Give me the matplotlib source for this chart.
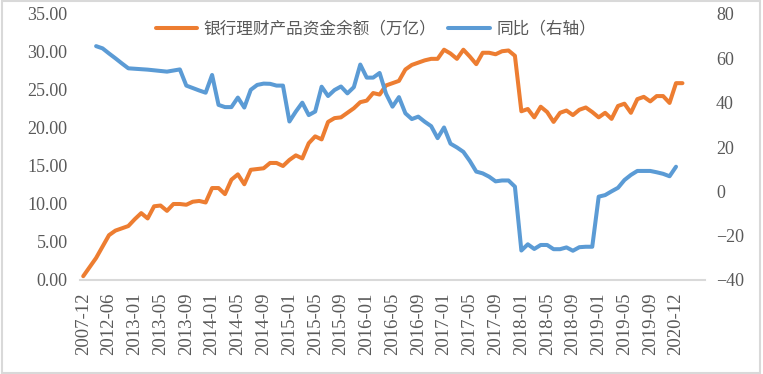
import numpy as np
import matplotlib
matplotlib.use("Agg")
import matplotlib.pyplot as plt
from matplotlib.patches import Rectangle

plt.rcParams['font.family'] = ['Liberation Serif', 'Noto Sans CJK SC']
plt.rcParams['axes.unicode_minus'] = True

# 银行理财产品资金余额（万亿），按类别顺序
balance = [0.5, 1.7, 2.9, 4.4, 5.9, 6.5, 6.8, 7.1, 8.0, 8.8,
           8.1, 9.7, 9.8, 9.1, 10.0, 10.0, 9.9, 10.3, 10.4, 10.2,
           12.1, 12.1, 11.3, 13.2, 13.9, 12.6, 14.5, 14.6, 14.7, 15.4,
           15.4, 15.0, 15.8, 16.4, 16.0, 18.0, 18.9, 18.5, 20.8, 21.3,
           21.4, 22.0, 22.6, 23.4, 23.6, 24.6, 24.4, 25.6, 25.9, 26.2,
           27.7, 28.3, 28.6, 28.9, 29.1, 29.1, 30.3, 29.8, 29.1, 30.3,
           29.4, 28.4, 29.9, 29.9, 29.7, 30.1, 30.2, 29.5, 22.2, 22.5,
           21.4, 22.8, 22.1, 20.8, 22.0, 22.3, 21.7, 22.4, 22.7, 22.1,
           21.4, 22.0, 21.2, 22.9, 23.2, 22.0, 23.8, 24.1, 23.5, 24.2,
           24.2, 23.3, 25.9, 25.9]

# 同比（右轴），%
yoy = [np.nan, np.nan, 65.5, 64.5, 62.2, 60.0, 57.7, 55.5, 55.3, 55.1,
       54.9, 54.6, 54.3, 54.0, 54.5, 55.0, 47.7, 46.6, 45.5, 44.5,
       52.5, 39.0, 38.0, 38.0, 42.3, 37.8, 45.8, 48.0, 48.6, 48.5,
       47.7, 47.7, 31.5, 36.0, 40.0, 34.4, 36.0, 47.2, 43.0, 45.7,
       47.3, 44.2, 47.0, 57.2, 51.3, 51.3, 53.4, 44.0, 38.2, 42.5,
       35.2, 32.6, 33.7, 31.4, 29.4, 24.0, 28.8, 21.5, 19.8, 17.8,
       13.7, 8.9, 8.1, 6.6, 4.5, 4.9, 4.9, 2.1, -26.7, -23.9,
       -26.0, -24.2, -24.2, -26.1, -26.1, -25.3, -26.8, -25.2, -25.0, -25.0,
       -2.4, -1.7, 0.0, 1.6, 5.1, 7.4, 9.2, 9.2, 9.2, 8.6,
       7.9, 6.8, 11.1, np.nan]

tick_labels = ['2007-12', '2012-06', '2013-01', '2013-05', '2013-09',
               '2014-01', '2014-05', '2014-09', '2015-01', '2015-05',
               '2015-09', '2016-01', '2016-05', '2016-09', '2017-01',
               '2017-05', '2017-09', '2018-01', '2018-05', '2018-09',
               '2019-01', '2019-05', '2019-09', '2020-12']

n_categories = 97
orange = '#ED7D31'
blue = '#5B9BD5'
grey_text = '#595959'

fig = plt.figure(figsize=(7.63, 3.74), dpi=100)
ax = fig.add_axes([80/763, 1 - 280/374, 625/763, 266/374])
ax2 = ax.twinx()

x = np.arange(len(balance))
l1, = ax.plot(x, balance, color=orange, lw=2.9, solid_joinstyle='round',
              solid_capstyle='round', label='银行理财产品资金余额（万亿）')
l2, = ax2.plot(x, yoy, color=blue, lw=2.9, solid_joinstyle='round',
               solid_capstyle='round', label='同比（右轴）')

ax.set_xlim(-0.5, n_categories - 0.5)
ax.set_ylim(0, 35)
ax2.set_ylim(-40, 80)

ax.set_yticks(np.arange(0, 36, 5))
ax.set_yticklabels(['%.2f' % v for v in np.arange(0, 36, 5)])
ax2.set_yticks(np.arange(-40, 81, 20))

ax.set_xticks(np.arange(0, 4 * len(tick_labels), 4))
ax.set_xticklabels(tick_labels, rotation=90)

for a in (ax, ax2):
    for s in a.spines.values():
        s.set_visible(False)
    a.tick_params(length=0, colors=grey_text, labelsize=13)
ax.spines['bottom'].set_visible(True)
ax.spines['bottom'].set_color('#D9D9D9')
ax.spines['bottom'].set_linewidth(1.5)
ax.tick_params(axis='y', pad=9)
ax.tick_params(axis='x', pad=9, labelsize=13.5)
ax2.tick_params(axis='y', pad=8)

leg = fig.legend([l1, l2], [l1.get_label(), l2.get_label()], ncol=2,
                 loc='center', bbox_to_anchor=(376/763, 1 - 29/374),
                 frameon=False, handlelength=2.5, handletextpad=0.4,
                 columnspacing=0.7,
                 prop={'family': ['Noto Sans CJK SC'], 'size': 12})
for t in leg.get_texts():
    t.set_color(grey_text)

# chart border
fig.patches.append(Rectangle((0.002, 0.004), 0.994, 0.992, transform=fig.transFigure,
                             fill=False, edgecolor='#D9D9D9', lw=1.5))

fig.savefig('out.png', dpi=100)
